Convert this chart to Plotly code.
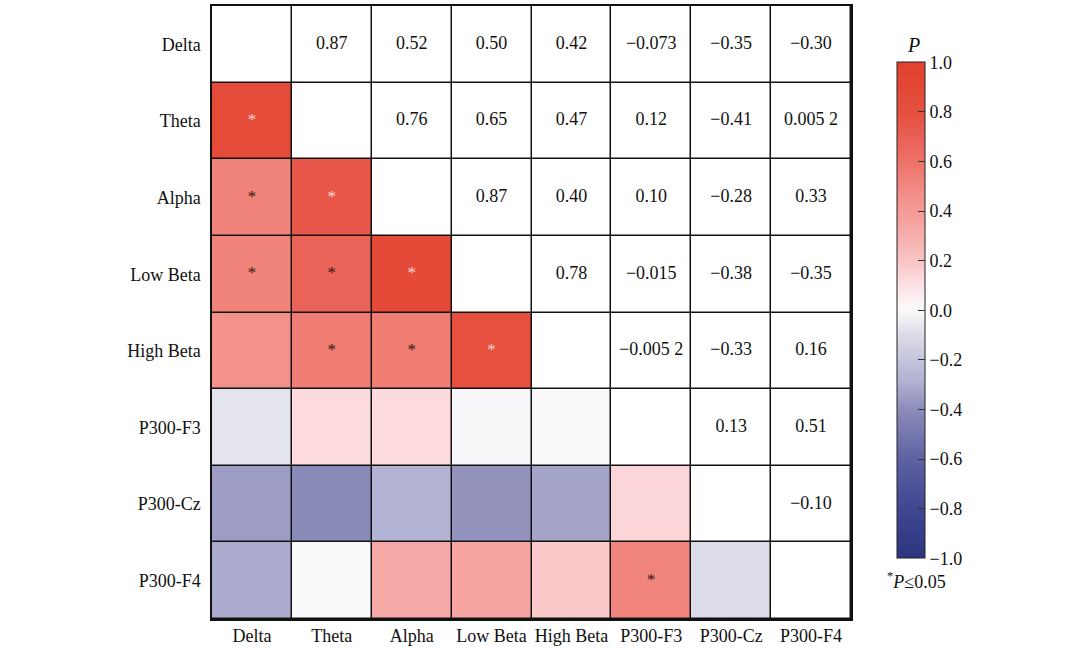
import plotly.graph_objects as go

labels = ["Delta", "Theta", "Alpha", "Low Beta", "High Beta", "P300-F3", "P300-Cz", "P300-F4"]

# upper-triangle printed coefficients (row i, col j>i)
upper_text = [
    ["", "0.87", "0.52", "0.50", "0.42", "\u22120.073", "\u22120.35", "\u22120.30"],
    ["", "", "0.76", "0.65", "0.47", "0.12", "\u22120.41", "0.005 2"],
    ["", "", "", "0.87", "0.40", "0.10", "\u22120.28", "0.33"],
    ["", "", "", "", "0.78", "\u22120.015", "\u22120.38", "\u22120.35"],
    ["", "", "", "", "", "\u22120.005 2", "\u22120.33", "0.16"],
    ["", "", "", "", "", "", "0.13", "0.51"],
    ["", "", "", "", "", "", "", "\u22120.10"],
    ["", "", "", "", "", "", "", ""],
]

# lower-triangle colour values (row i, col j<i)
lower_vals = [
    [],
    [0.87],
    [0.52, 0.76],
    [0.52, 0.68, 0.88],
    [0.45, 0.55, 0.55, 0.80],
    [-0.073, 0.12, 0.12, -0.015, -0.0052],
    [-0.35, -0.41, -0.28, -0.38, -0.33, 0.14],
    [-0.31, 0.0052, 0.33, 0.35, 0.18, 0.51, -0.10],
]

# significance marks (row, col)
sig_light = [(1, 0), (2, 1), (3, 2), (4, 3)]
sig_dark = [(2, 0), (3, 0), (3, 1), (4, 1), (4, 2), (7, 5)]

colorscale = [
    [0.0, "#2d3582"],
    [0.1, "#3f4791"],
    [0.2, "#5e62a2"],
    [0.3, "#8c8cba"],
    [0.35, "#aeaed0"],
    [0.4, "#c5c5dd"],
    [0.45, "#dcdce8"],
    [0.5, "#fbfbfb"],
    [0.55, "#fde0e4"],
    [0.6, "#f9c4c4"],
    [0.65, "#f6aeac"],
    [0.7, "#f49a97"],
    [0.75, "#f1877f"],
    [0.8, "#ed7268"],
    [0.85, "#e95f55"],
    [0.9, "#e5503f"],
    [1.0, "#e2412c"],
]

n = len(labels)
z_low = [[(lower_vals[i][j] if j < i else None) for j in range(n)] for i in range(n)]
z_white = [[(1 if j >= i else None) for j in range(n)] for i in range(n)]

font_family = "Liberation Serif, Times New Roman, serif"
fs = 18

fig = go.Figure()
fig.add_trace(go.Heatmap(
    x=labels, y=labels, z=z_low, zmin=-1, zmax=1, colorscale=colorscale,
    xgap=1.5, ygap=1.5, hoverinfo="skip",
    colorbar=dict(
        x=(897 - 212) / 639, xanchor="left", xpad=0,
        y=1 - (310.5 - 4.5) / 616.5, yanchor="middle", ypad=0,
        len=499 / 616.5, lenmode="fraction", thickness=28,
        outlinewidth=1, outlinecolor="#222",
        tickvals=[-1, -0.8, -0.6, -0.4, -0.2, 0, 0.2, 0.4, 0.6, 0.8, 1.0],
        tickformat=".1f", ticks="inside", ticklen=7, tickcolor="#333",
        tickfont=dict(family=font_family, size=fs, color="#111"),
    ),
))
fig.add_trace(go.Heatmap(
    x=labels, y=labels, z=z_white, zmin=0, zmax=1,
    colorscale=[[0, "white"], [1, "white"]], showscale=False,
    xgap=1.5, ygap=1.5, hoverinfo="skip",
))

tx, ty, tt = [], [], []
for i in range(n):
    for j in range(n):
        if upper_text[i][j]:
            tx.append(labels[j]); ty.append(labels[i]); tt.append(upper_text[i][j])
fig.add_trace(go.Scatter(x=tx, y=ty, text=tt, mode="text",
                         textfont=dict(family=font_family, size=fs, color="#111"),
                         hoverinfo="skip", showlegend=False))

fig.add_trace(go.Scatter(x=[labels[c] for r, c in sig_light], y=[labels[r] for r, c in sig_light],
                         text=["*"] * len(sig_light), mode="text",
                         textfont=dict(family=font_family, size=17, color="#f8d6cf"),
                         hoverinfo="skip", showlegend=False))
fig.add_trace(go.Scatter(x=[labels[c] for r, c in sig_dark], y=[labels[r] for r, c in sig_dark],
                         text=["*"] * len(sig_dark), mode="text",
                         textfont=dict(family=font_family, size=17, color="#3a1612"),
                         hoverinfo="skip", showlegend=False))

fig.add_annotation(xref="paper", yref="paper", x=(913 - 212) / 639, y=1 - (44 - 4.5) / 616.5,
                   xanchor="center", yanchor="middle",
                   text="<i>P</i>", showarrow=False,
                   font=dict(family=font_family, size=20, color="#111"))
fig.add_annotation(xref="paper", yref="paper", x=(916 - 212) / 639, y=1 - (582 - 4.5) / 616.5,
                   xanchor="center", yanchor="middle",
                   text="<sup>*</sup><i>P</i>≤0.05", showarrow=False,
                   font=dict(family=font_family, size=fs, color="#111"))

fig.update_layout(
    width=1080, height=651,
    margin=dict(l=212, r=229, t=4.5, b=30),
    paper_bgcolor="white", plot_bgcolor="#111",
    font=dict(family=font_family, size=fs, color="#111"),
    showlegend=False,
)
fig.update_xaxes(type="category", showgrid=False, zeroline=False, ticks="",
                 showline=True, linecolor="#111", linewidth=1.5, mirror=True,
                 tickfont=dict(family=font_family, size=fs, color="#111"), fixedrange=True)
fig.update_yaxes(type="category", autorange="reversed", showgrid=False, zeroline=False, ticks="",
                 showline=True, linecolor="#111", linewidth=1.5, mirror=True,
                 ticklabelstandoff=6,
                 tickfont=dict(family=font_family, size=fs, color="#111"), fixedrange=True)

fig.write_html("out.html", config={"displayModeBar": False},
               post_script="document.body.style.margin='0';document.body.style.overflow='hidden';")
